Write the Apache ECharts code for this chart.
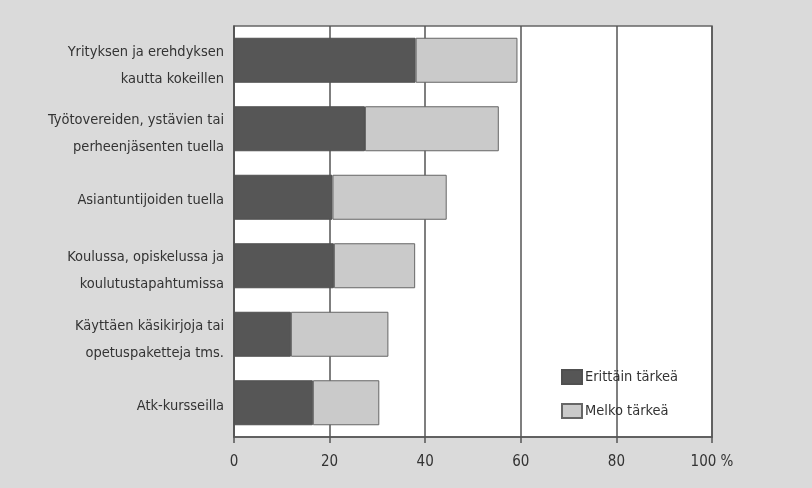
<!DOCTYPE html>
<html>
<head>
<meta charset="utf-8">
<script src="https://cdn.jsdelivr.net/npm/echarts@6/dist/echarts.min.js"></script>
<style>
html,body{margin:0;padding:0;background:#dadada;}
#chart{width:812px;height:488px;}
</style>
</head>
<body>
<div id="chart"></div>
<script>
var categories = [
  "Yrityksen ja erehdyksen\nkautta kokeillen",
  "Työtovereiden, ystävien tai\nperheenjäsenten tuella",
  "Asiantuntijoiden tuella",
  "Koulussa, opiskelussa ja\nkoulutustapahtumissa",
  "Käyttäen käsikirjoja tai\nopetuspaketteja tms.",
  "Atk-kursseilla"
];
var seriesNames = ["Erittäin tärkeä", "Melko tärkeä"];
var erittainTarkea = [38.0, 27.4, 20.6, 20.9, 11.9, 16.5];
var melkoTarkea = [21.3, 28.0, 23.9, 17.0, 20.4, 13.9];
var xTicks = [0, 20, 40, 60, 80, 100];

var font = '"Liberation Sans Narrow", "DejaVu Sans Condensed", "Liberation Sans", sans-serif';
var chart = echarts.init(document.getElementById('chart'));
chart.setOption({
  backgroundColor: '#dadada',
  animation: false,
  textStyle: { fontFamily: font },
  grid: {
    left: 234, right: 100, top: 26, bottom: 51,
    show: true, backgroundColor: '#ffffff', borderColor: '#666666', borderWidth: 1.5
  },
  legend: {
    orient: 'vertical',
    left: 561, top: 369, padding: 0,
    itemWidth: 20, itemHeight: 14, itemGap: 18,
    icon: 'rect',
    textStyle: { fontFamily: font, fontSize: 14.5, color: '#333333', padding: [0,0,0,-2] },
    data: seriesNames
  },
  xAxis: {
    type: 'value', min: 0, max: 100, interval: 20,
    axisLine: { show: true, lineStyle: { color: '#555555', width: 1.5 } },
    axisTick: { show: true, length: 6, inside: false, lineStyle: { color: '#555555', width: 1.5 } },
    splitLine: { show: true, lineStyle: { color: '#555555', width: 1.5 } },
    axisLabel: {
      margin: 18, fontSize: 15, color: '#333333', fontFamily: font,
      formatter: function (v) { return xTicks.indexOf(v) >= 0 ? (v === 100 ? '100 %' : String(v)) : ''; }
    }
  },
  yAxis: {
    type: 'category', inverse: true, data: categories,
    axisLine: { show: true, lineStyle: { color: '#555555', width: 1.5 } },
    axisTick: { show: false },
    axisLabel: {
      margin: 10, fontSize: 14.5, color: '#333333', lineHeight: 27, align: 'right', fontFamily: font,
      formatter: function (v) {
        return (v.indexOf('\n') >= 0 ? '{s| }' : '{u| }') + '\n' + v;
      },
      rich: {
        s: { fontSize: 1, lineHeight: 10, height: 10 },
        u: { fontSize: 1, lineHeight: 6, height: 6 }
      }
    }
  },
  series: [
    {
      name: seriesNames[0], type: 'bar', stack: 'a', barWidth: 45,
      data: erittainTarkea,
      itemStyle: { color: '#565656', borderColor: '#505050', borderWidth: 1 }
    },
    {
      name: seriesNames[1], type: 'bar', stack: 'a', barWidth: 45,
      data: melkoTarkea,
      itemStyle: { color: '#cacaca', borderColor: '#666666', borderWidth: 1 }
    }
  ]
});
</script>
</body>
</html>
